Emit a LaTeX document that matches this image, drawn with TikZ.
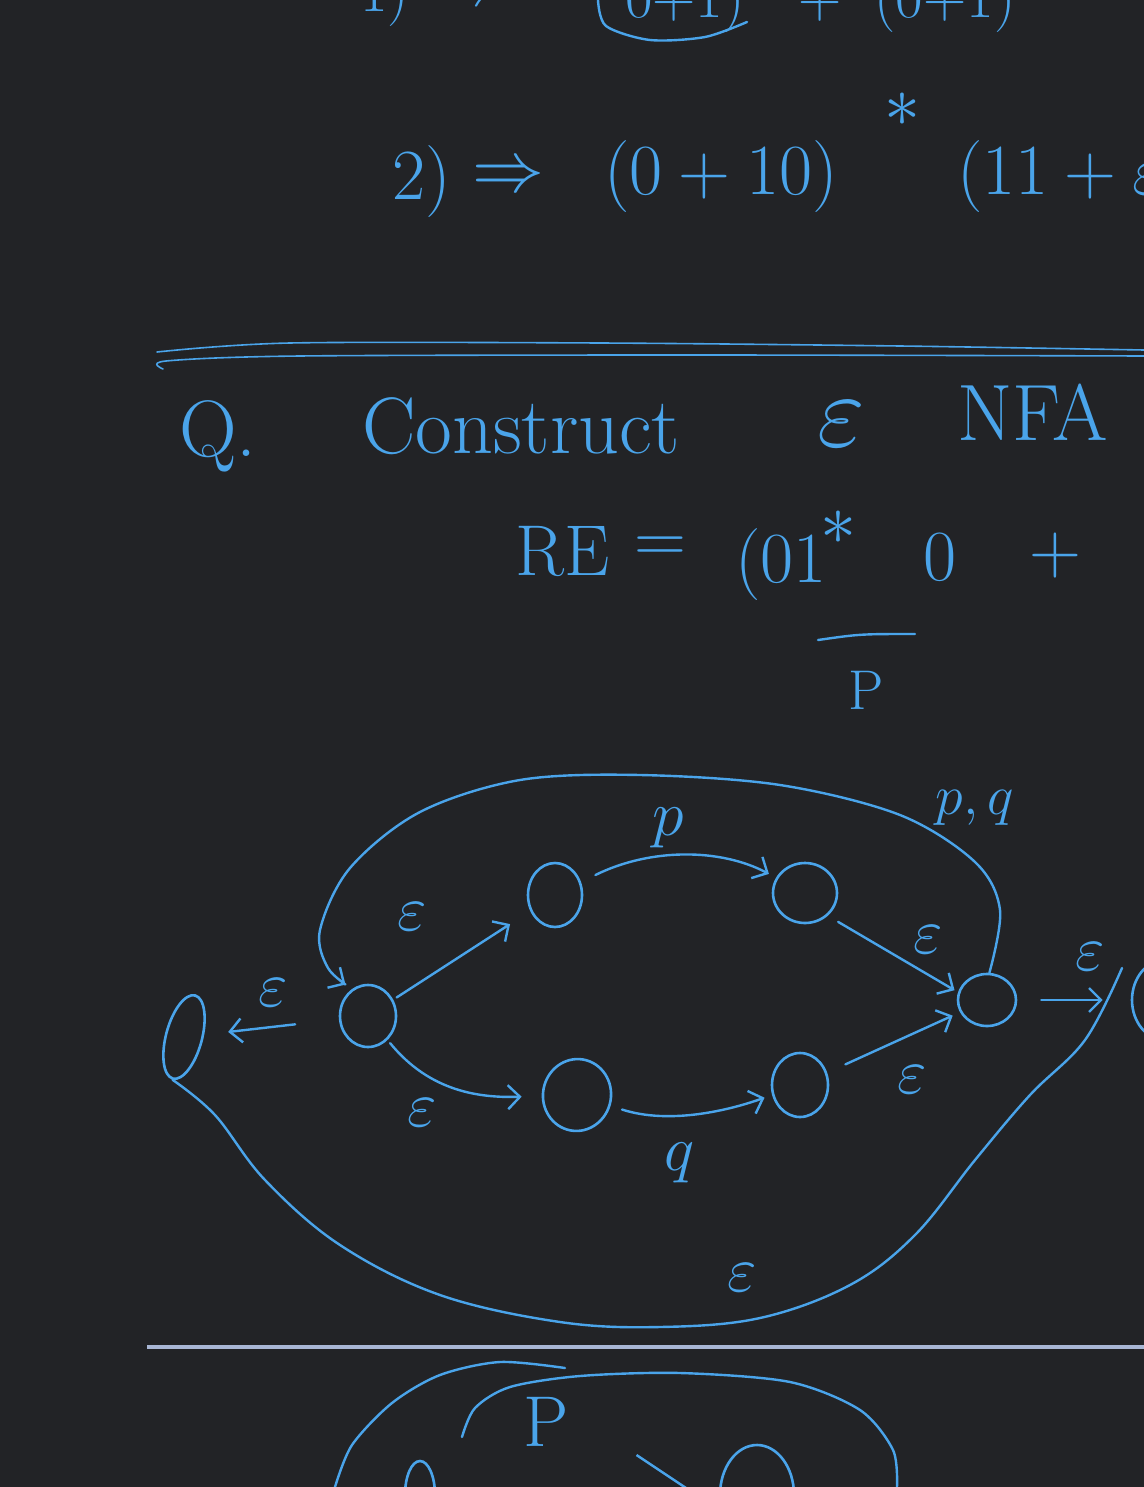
\RequirePackage{fix-cm}
\documentclass[tikz,border=0pt]{standalone}
\usepackage{amsmath,amssymb}
\usetikzlibrary{arrows.meta,shapes.geometric,positioning}
\definecolor{board}{RGB}{34,35,38}
\definecolor{ink}{RGB}{74,164,234}
\definecolor{rulecol}{RGB}{168,182,212}

\begin{document}
\begin{tikzpicture}[x=0.5pt, y=-0.5pt, >={Straight Barb[length=6pt,width=12pt]},
    every node/.style={text=ink},
    hand/.style={font=\fontsize{36}{40}\selectfont},
    top/.style={font=\fontsize{30}{34}\selectfont},
    big/.style={font=\fontsize{40}{44}\selectfont},
    lbl/.style={font=\fontsize{32}{36}\selectfont},
    small/.style={font=\fontsize{28}{32}\selectfont},
    stroke/.style={draw=ink, line width=1.2pt, line cap=round, line join=round},
    nfastate/.style={ellipse, draw=ink, line width=1.3pt, inner sep=0pt}]
    % Board
    \fill[board] (0,0) rectangle (1144,1487);
    \useasboundingbox (0,0) rectangle (1144,1487);
    \clip (0,0) rectangle (1144,1487);

    % Line 1 (cut off at the top)
    \node[top, anchor=base east] (one) at (416,12) {1)};
    \node[top, anchor=base] (imp1) at (470,6) {$\Rightarrow$};
    \node[top, anchor=base] (grpa) at (685,18) {0+1)};
    \draw[stroke] plot[smooth] coordinates {(598,0) (606,26) (650,40) (705,37) (747,22)};
    \node[top, anchor=base] (plus1) at (820,18) {+};
    \node[top, anchor=base] (grpb) at (945,18) {(0+1)};

    % Line 2
    \node[hand, anchor=base west] (two) at (385,200) {2)};
    \node[hand] (imp2) at (508,178) {$\Rightarrow$};
    \node[hand, anchor=base west] (grpc) at (597,195) {$(0+10)$};
    \node[hand] (star1) at (902,110) {$\ast$};
    \node[hand, anchor=base west] (grpd) at (950,195) {$(11+\varepsilon,$};

    % Double rule
    \draw[stroke, line width=0.8pt] plot[smooth] coordinates {(157,352) (290,343) (600,343) (900,346) (1144,350)};
    \draw[stroke, line width=0.8pt] plot[smooth] coordinates {(163,369) (166,361) (300,356) (700,355) (1144,356)};

    % Question
    \node[big, anchor=base west] (qq) at (172,456) {Q.};
    \node[big, anchor=base west] (cons) at (355,453) {Construct};
    \node[font=\fontsize{52}{56}\selectfont, anchor=base west] (epsq) at (810,446) {$\varepsilon$};
    \node[big, anchor=base west] (nfa) at (950,440) {NFA};

    % Regular expression
    \node[hand, anchor=base west] (re) at (508,575) {RE};
    \node[hand] (eq) at (660,550) {$=$};
    \node[hand, anchor=base west] (grpe) at (728,582) {$(01$};
    \node[hand] (star2) at (838,528) {$\ast$};
    \node[hand, anchor=base] (zero) at (940,580) {$0$};
    \node[hand] (plus2) at (1055,555) {$+$};
    \draw[stroke] (818,640) .. controls (860,634) .. (915,634);
    \node[small] (pmark) at (866,690) {P};

    % States
    \node[nfastate, minimum width=18pt, minimum height=43pt, rotate=-15] (s0) at (184,1037) {};
    \node[nfastate, minimum width=28pt, minimum height=31pt] (s1) at (368,1016) {};
    \node[nfastate, minimum width=27pt, minimum height=32pt] (s2) at (555,895) {};
    \node[nfastate, minimum width=32pt, minimum height=30pt] (s3) at (805,893) {};
    \node[nfastate, minimum width=34pt, minimum height=36pt, rotate=-10] (s4) at (577,1095) {};
    \node[nfastate, minimum width=28pt, minimum height=32pt] (s5) at (800,1085) {};
    \node[nfastate, minimum width=29pt, minimum height=26pt] (s6) at (987,1000) {};
    \node[nfastate, minimum width=33pt, minimum height=40pt] (s7) at (1165,1000) {};
    \coordinate (tail) at (1122,968);

    % Moves
    \draw[stroke, ->, shorten <=22pt, shorten >=12pt] (s1) -- (s0);
    \draw[stroke, ->, shorten <=2pt, shorten >=12pt] (s1) -- (s2);
    \draw[stroke, ->, shorten <=8pt, shorten >=4pt] (s2) .. controls (650,848) and (720,848) .. (s3);
    \draw[stroke, ->, shorten <=6pt, shorten >=2pt] (s3.-45) -- (s6.165);
    \draw[stroke, ->, shorten <=2pt, shorten >=10pt] (s1) .. controls (430,1092) and (480,1098) .. (s4);
    \draw[stroke, ->, shorten <=6pt, shorten >=4pt] (s4) .. controls (670,1125) and (730,1110) .. (s5);
    \draw[stroke, ->, shorten <=10pt, shorten >=4pt] (s5) -- (s6);
    \draw[stroke, ->, shorten <=12pt, shorten >=14pt] (s6) -- (s7);

    % Loop back and bypass
    \draw[stroke, ->, shorten >=4pt] plot[smooth, tension=0.55] coordinates {(s6.85) (1000,910) (975,862) (900,815) (780,785) (640,775) (520,780) (420,812) (350,868) (320,930) (328,968) (s1.120)};
    \draw[stroke] plot[smooth, tension=0.6] coordinates {(s0.south) (215,1115) (265,1180) (340,1245) (440,1295) (560,1322) (660,1327) (760,1318) (850,1285) (915,1235) (975,1160) (1030,1095) (1085,1040) (tail)};

    % Labels
    \foreach \x/\y/\n in {273/993/1, 412/917/2, 928/940/3, 422/1113/4, 912/1080/5, 1090/957/6, 742/1278/7} {
      \node[lbl] (e\n) at (\x,\y) {$\varepsilon$};
    }
    \node[lbl] (lp) at (668,828) {$p$};
    \node[lbl] (lq) at (680,1163) {$q$};
    \node[small] (lpq) at (975,808) {$p,q$};

    % Separator
    \draw[draw=rulecol, line width=1.6pt] (147,1347) -- (1144,1347);

    % Next sketch (cut off)
    \node[nfastate, minimum width=15pt, minimum height=34pt] (b1) at (420,1495) {};
    \node[nfastate, minimum width=37pt, minimum height=50pt] (b2) at (757,1495) {};
    \draw[stroke, -{Straight Barb[length=30pt,width=40pt]}, shorten >=10pt] (b1) -- (b2);
    \draw[stroke] plot[smooth] coordinates {(335,1487) (352,1445) (392,1403) (440,1375) (500,1362) (565,1368)};
    \draw[stroke] plot[smooth] coordinates {(462,1437) (475,1408) (510,1387) (580,1376) (680,1373) (790,1382) (860,1410) (893,1450) (897,1487)};
    \node[hand] (pb) at (546,1422) {P};
\end{tikzpicture}
\end{document}
